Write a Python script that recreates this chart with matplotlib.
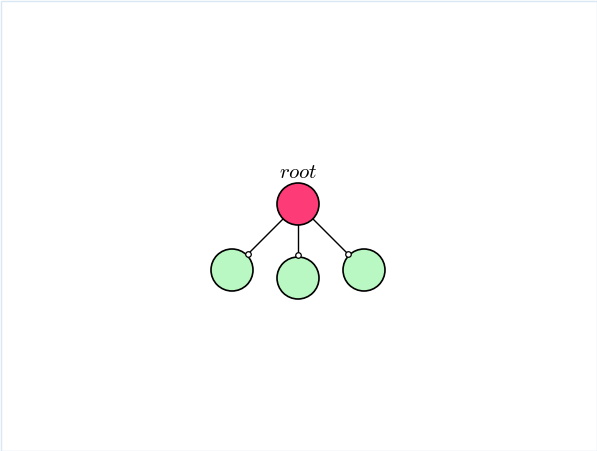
import numpy as np
import matplotlib.pyplot as plt
from matplotlib.patches import Circle, Rectangle

plt.rcParams["mathtext.fontset"] = "cm"

# node positions in pixel space
root_xy = (298, 204)
child_x = [232, 298, 364]
child_y = [270, 278, 270]
radius = 21
root_label = r"$root$"

fig = plt.figure(figsize=(5.97, 4.51), dpi=100)
ax = fig.add_axes([0, 0, 1, 1])
ax.set_xlim(0, 597)
ax.set_ylim(451, 0)
ax.set_aspect("equal")
ax.axis("off")

# light frame around the figure
ax.add_patch(Rectangle((0.5, 0.5), 596, 450, fill=False, edgecolor="#dbe8f3", linewidth=1))

rx, ry = root_xy
for cx, cy in zip(child_x, child_y):
    d = np.array([cx - rx, cy - ry], dtype=float)
    u = d / np.linalg.norm(d)
    start = np.array(root_xy) + u * radius
    end = np.array([cx, cy]) - u * (radius + 2)
    ax.plot([start[0], end[0]], [start[1], end[1]], color="black", linewidth=1, zorder=1)
    ax.plot(end[0], end[1], "o", markersize=4, markerfacecolor="white",
            markeredgecolor="black", markeredgewidth=0.9, zorder=3)
    ax.add_patch(Circle((cx, cy), radius, facecolor="#b9f8c2", edgecolor="black",
                        linewidth=1.2, zorder=2))

ax.add_patch(Circle(root_xy, radius, facecolor="#fd3b77", edgecolor="black",
                    linewidth=1.2, zorder=2))
ax.text(rx, ry - 32, root_label, ha="center", va="center", fontsize=15)

fig.savefig("out.png", dpi=100)
